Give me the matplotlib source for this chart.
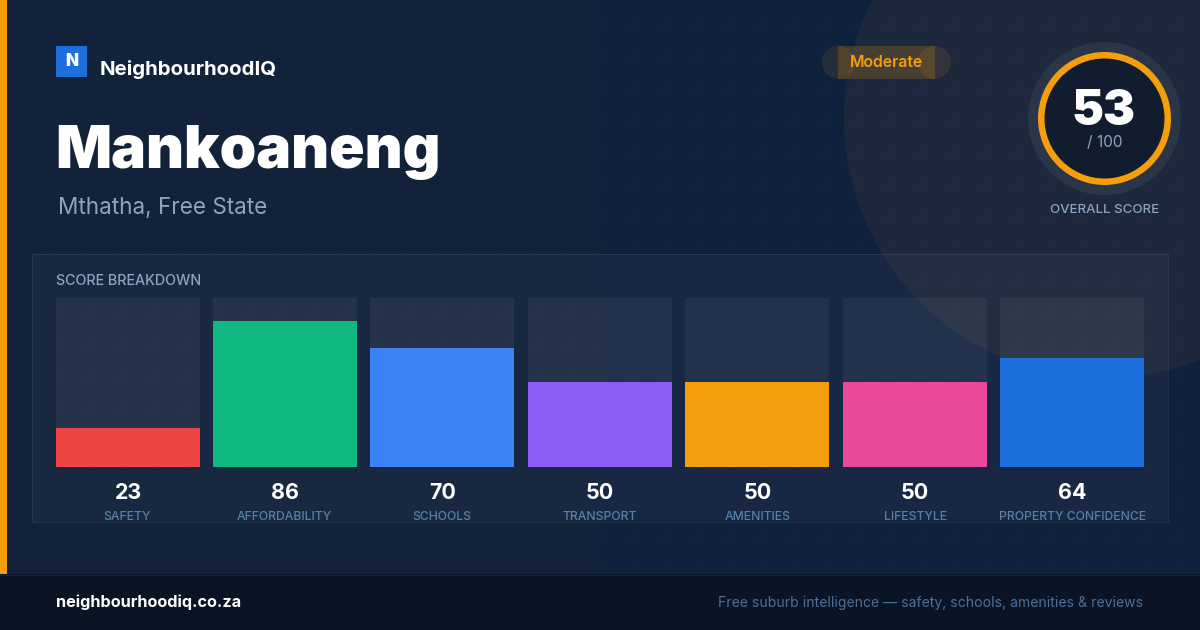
import matplotlib
matplotlib.use("Agg")
import matplotlib.pyplot as plt
from matplotlib.patches import Circle, Rectangle
import numpy as np

plt.rcParams['font.family'] = ['Inter', 'DejaVu Sans']

W, H = 1200, 630

categories = ['SAFETY', 'AFFORDABILITY', 'SCHOOLS', 'TRANSPORT', 'AMENITIES', 'LIFESTYLE', 'PROPERTY CONFIDENCE']
scores = [23, 86, 70, 50, 50, 50, 64]
bar_colors = ['#ef4444', '#10b981', '#3b82f6', '#8b5cf6', '#f59e0b', '#ec4899', '#1d6fdc']
overall_score = 53
max_score = 100
suburb = 'Mankoaneng'
location = 'Mthatha, Free State'
brand = 'NeighbourhoodIQ'
rating = 'Moderate'
site = 'neighbourhoodiq.co.za'
tagline = 'Free suburb intelligence — safety, schools, amenities & reviews'

ORANGE = '#f59e0b'
MUTED = '#8ba4c0'
LABEL = '#5a7fa6'


def px(size):
    # css pixels to points at dpi 100
    return size * 0.72


fig = plt.figure(figsize=(W / 100, H / 100), dpi=100, facecolor='#11223c')

# page layer in pixel coordinates
ax = fig.add_axes([0, 0, 1, 1])
ax.set_xlim(0, W)
ax.set_ylim(H, 0)
ax.axis('off')

ax.imshow([[0, 1], [0, 1]], extent=(0, W, H, 0), aspect='auto', zorder=0,
          cmap=matplotlib.colors.LinearSegmentedColormap.from_list('bg', ['#12223b', '#10213e']))
ax.set_xlim(0, W)
ax.set_ylim(H, 0)

# faint dot grid
gx, gy = np.meshgrid(np.arange(24, W, 32), np.arange(24, 574, 32))
ax.scatter(gx.ravel(), gy.ravel(), s=3, color='#ffffff', alpha=0.025, linewidths=0, zorder=1)

# big circle behind the score
ax.add_patch(Circle((1104, 118), 260, color='#f5a623', alpha=0.06, lw=0, zorder=1.5))

ax.add_patch(Rectangle((0, 0), 7, 574, color=ORANGE, lw=0, zorder=2))

# logo + brand
ax.add_patch(Rectangle((56, 46), 31, 31, color='#1d6fdc', lw=0, zorder=3))
ax.text(71.5, 61.5, 'N', color='white', fontsize=px(17), fontweight='black', ha='center', va='center', zorder=4)
ax.text(100, 75, brand, color='white', fontsize=px(20.4), fontweight='bold', ha='left', va='baseline', zorder=4)

ax.text(55.5, 168, suburb, color='white', fontsize=px(58.7), fontweight='black', ha='left', va='baseline', zorder=4)
ax.text(58, 214, location, color=MUTED, fontsize=px(22.5), ha='left', va='baseline', zorder=4)

# rating pill (rect with two end circles, overlapping)
ax.add_patch(Rectangle((838, 46), 97, 33, color=ORANGE, alpha=0.2, lw=0, zorder=3))
ax.add_patch(Circle((838.5, 62.5), 16.5, color=ORANGE, alpha=0.1, lw=0, zorder=3))
ax.add_patch(Circle((934.5, 62.5), 16.5, color=ORANGE, alpha=0.1, lw=0, zorder=3))
ax.text(886.5, 67, rating, color=ORANGE, fontsize=px(15.8), fontweight='semibold', ha='center', va='baseline', zorder=4)

# score ring
ax.add_patch(Circle((1104.5, 118.5), 76.5, color='#2a3547', lw=0, zorder=3))
ax.add_patch(Circle((1104.5, 118.5), 66.5, color=ORANGE, lw=0, zorder=3))
ax.add_patch(Circle((1104.5, 118.5), 60, color='#111c2e', lw=0, zorder=3))
ax.text(1103.5, 125, str(overall_score), color='white', fontsize=px(48), fontweight='black', ha='center', va='baseline', zorder=4)
ax.text(1104.5, 147, f'/ {max_score}', color=MUTED, fontsize=px(15.5), ha='center', va='baseline', zorder=4)
ax.text(1104.5, 213, 'OVERALL SCORE', color=MUTED, fontsize=px(13.3), fontweight='medium', ha='center', va='baseline', zorder=4)

# breakdown panel
ax.add_patch(Rectangle((32, 254), 1136, 268, facecolor='#ffffff', alpha=0.03, lw=0, zorder=2))
ax.add_patch(Rectangle((32, 254), 1136, 268, fill=False, edgecolor='#ffffff', alpha=0.07, lw=0.72, zorder=2))
ax.text(56, 285, 'SCORE BREAKDOWN', color=MUTED, fontsize=px(14.3), fontweight='medium', ha='left', va='baseline', zorder=4)

# footer
ax.add_patch(Rectangle((0, 574), W, 56, color='#0a1424', lw=0, zorder=2))
ax.plot([0, W], [574.5, 574.5], color='#16233a', lw=0.72, zorder=2)
ax.text(56, 607.5, site, color='white', fontsize=px(16.25), fontweight='bold', ha='left', va='baseline', zorder=4)
ax.text(1143, 607, tagline, color='#4a7099', fontsize=px(14), ha='right', va='baseline', zorder=4)

# bars: offset and pitch picked so the edges land on the same pixels as the reference
bar_w = 144
pitch = 157.4
half = (bar_w / pitch) / 2
x = np.arange(len(categories))
bar_ax = fig.add_axes([55.6 / W, (H - 467) / H, (6 * pitch + bar_w) / W, 169 / H], zorder=5)
bar_ax.bar(x, [max_score] * len(x), width=2 * half, color='#ffffff', alpha=0.05, lw=0)
bar_ax.bar(x, scores, width=2 * half, color=bar_colors, lw=0)
bar_ax.set_xlim(-half, len(x) - 1 + half)
bar_ax.set_ylim(0, 169 / 1.7)  # 1.7 px per point, track clipped at axes top
bar_ax.axis('off')

# value and category labels under bars
for i, (cat, val) in enumerate(zip(categories, scores)):
    ax.text(128 + i * 157.4, 499, str(val), color='white', fontsize=px(21.5), fontweight='bold', ha='center', va='baseline', zorder=4)
    ax.text(126.75 + i * 157.67, 520, cat, color=LABEL, fontsize=px(12.2), fontweight='medium', ha='center', va='baseline', zorder=4)

fig.savefig('out.png', dpi=100, facecolor=fig.get_facecolor())
